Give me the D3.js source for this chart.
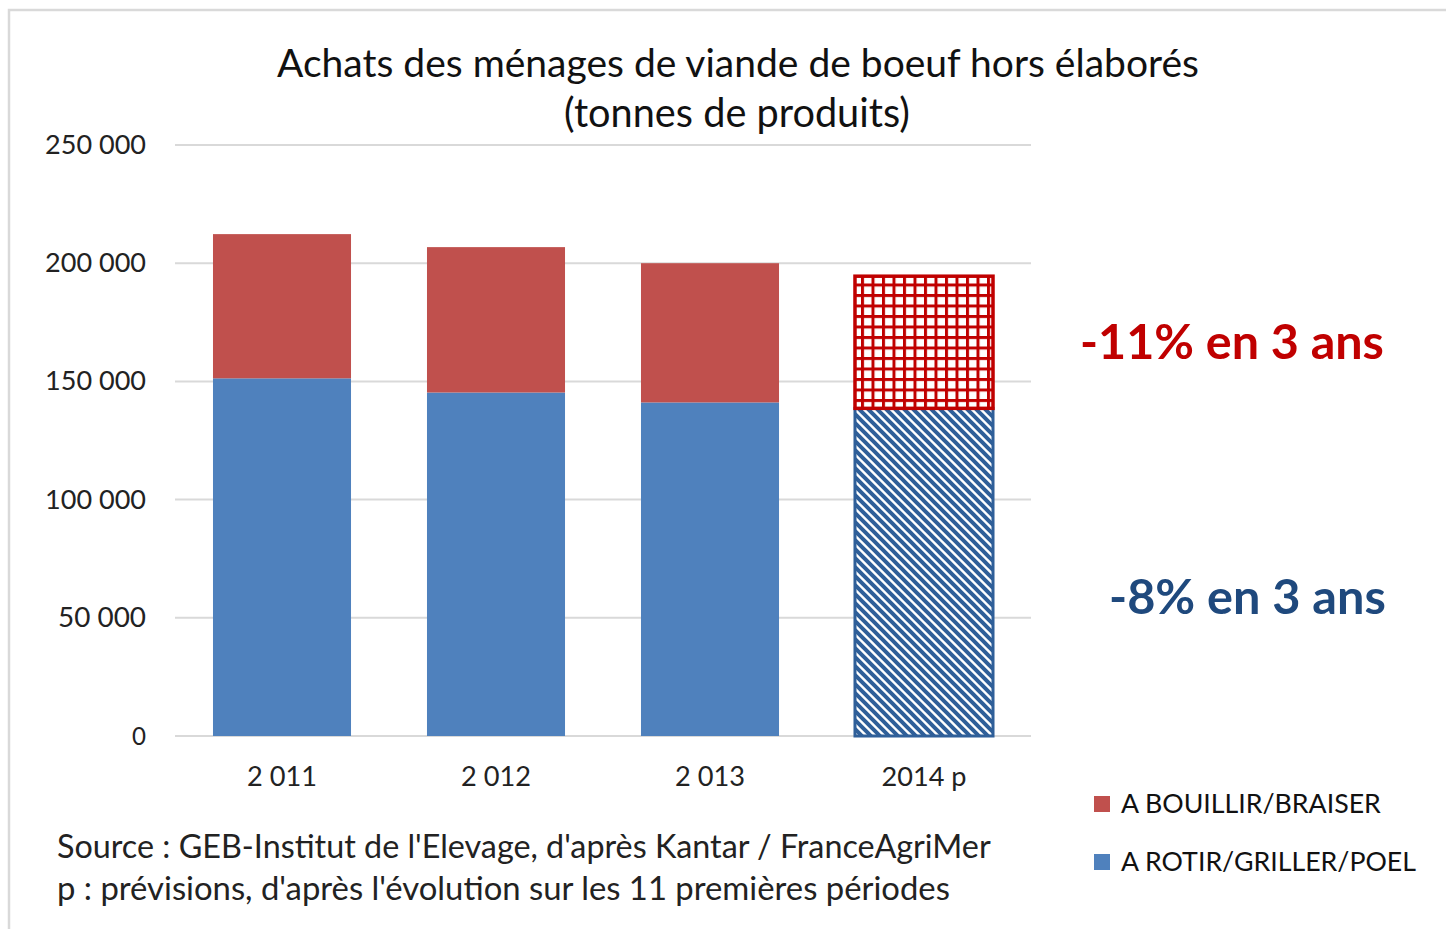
<!DOCTYPE html>
<html>
<head>
<meta charset="utf-8">
<script src="https://cdn.jsdelivr.net/npm/d3@7"></script>
<style>
  body { margin: 0; background: #fff; }
  text { font-family: Lato, "Open Sans", sans-serif; }
</style>
</head>
<body>
<div id="chart-area"></div>
<script>
// data
var years = ["2 011", "2 012", "2 013", "2014 p"]
var rotir = [151300, 145300, 141100, 138600]      // A ROTIR/GRILLER/POEL
var bouillir = [61000, 61500, 58900, 55900]       // A BOUILLIR/BRAISER
var yTicks = [0, 50000, 100000, 150000, 200000, 250000]
var yTickLabels = ["0", "50 000", "100 000", "150 000", "200 000", "250 000"]
var seriesNames = ["A BOUILLIR/BRAISER", "A ROTIR/GRILLER/POEL"]
var notes = ["-11% en 3 ans", "-8% en 3 ans"]

const W = 1446, H = 929
const RED = "#C0504D", BLUE = "#4F81BD"
const DARK_RED = "#C00000", DARK_BLUE = "#1F497D"

var svg = d3.select('#chart-area').append("svg")
    .attr("width", W)
    .attr("height", H)

// frame
svg.append("rect")
    .attr("x", 9).attr("y", 10)
    .attr("width", W + 20).attr("height", H + 20)
    .attr("fill", "none")
    .attr("stroke", "#D9D9D9")
    .attr("stroke-width", 2.5)

// patterns for the 2014 forecast bar
var defs = svg.append("defs")
var grid = defs.append("pattern")
    .attr("id", "redGrid")
    .attr("patternUnits", "userSpaceOnUse")
    .attr("width", 10.5).attr("height", 10.5)
grid.append("rect").attr("width", 10.5).attr("height", 10.5).attr("fill", "#fff")
grid.append("rect").attr("width", 3).attr("height", 10.5).attr("fill", DARK_RED)
grid.append("rect").attr("width", 10.5).attr("height", 3).attr("fill", DARK_RED)

var diag = defs.append("pattern")
    .attr("id", "blueDiag")
    .attr("patternUnits", "userSpaceOnUse")
    .attr("width", 9).attr("height", 9)
diag.append("rect").attr("width", 9).attr("height", 9).attr("fill", "#fff")
diag.append("path")
    .attr("d", "M-2,-2 L11,11 M-7,2 L2,11 M7,-2 L11,2")
    .attr("stroke", "#2F5F99")
    .attr("stroke-width", 4)

var xScale = d3.scaleBand()
    .domain(years)
    .range([175, 1031])
    .paddingInner(0.355)
    .paddingOuter(0.1775)

var yScale = d3.scaleLinear()
    .domain([0, 250000])
    .range([736, 145])

// gridlines
svg.append("g")
    .selectAll("line")
    .data(yTicks)
    .enter().append("line")
    .attr("x1", 175).attr("x2", 1031)
    .attr("y1", d => yScale(d)).attr("y2", d => yScale(d))
    .attr("stroke", "#D9D9D9")
    .attr("stroke-width", 2)

// fits a text to a target width by changing its font size
function fit(sel, width) {
    var size = +sel.attr("font-size")
    var len = sel.node().getComputedTextLength()
    sel.attr("font-size", size * width / len)
}

// y labels
svg.append("g")
    .selectAll("text")
    .data(yTicks)
    .enter().append("text")
    .attr("x", 146)
    .attr("y", d => yScale(d) + 9)
    .attr("text-anchor", "end")
    .attr("font-size", 25)
    .attr("fill", "#222")
    .text((d, i) => yTickLabels[i])
    .each(function(d, i) {
        fit(d3.select(this), i == 0 ? 14 : (i == 1 ? 88 : 101))
    })

// bars
var stack = years.map(function(y, i) {
    return {year: y, rotir: rotir[i], bouillir: bouillir[i], forecast: i == 3}
})
var bars = svg.append("g")
bars.selectAll(".rotir")
    .data(stack)
    .enter().append("rect")
    .attr("class", "rotir")
    .attr("x", d => xScale(d.year))
    .attr("width", xScale.bandwidth())
    .attr("y", d => yScale(d.rotir))
    .attr("height", d => yScale(0) - yScale(d.rotir))
    .attr("fill", d => d.forecast ? "url(#blueDiag)" : BLUE)
    .attr("stroke", d => d.forecast ? "#2F5F99" : "none")
    .attr("stroke-width", 3)
bars.selectAll(".bouillir")
    .data(stack)
    .enter().append("rect")
    .attr("class", "bouillir")
    .attr("x", d => xScale(d.year))
    .attr("width", xScale.bandwidth())
    .attr("y", d => yScale(d.rotir + d.bouillir))
    .attr("height", d => yScale(d.rotir) - yScale(d.rotir + d.bouillir))
    .attr("fill", d => d.forecast ? "url(#redGrid)" : RED)
    .attr("stroke", d => d.forecast ? DARK_RED : "none")
    .attr("stroke-width", 3.5)

// x labels
svg.append("g")
    .selectAll("text")
    .data(years)
    .enter().append("text")
    .attr("x", d => xScale(d) + xScale.bandwidth() / 2)
    .attr("y", 786)
    .attr("text-anchor", "middle")
    .attr("font-size", 25)
    .attr("fill", "#222")
    .text(d => d)
    .each(function(d, i) { fit(d3.select(this), i == 3 ? 85 : 70) })

// title
var t1 = svg.append("text")
    .attr("x", 738).attr("y", 77)
    .attr("text-anchor", "middle")
    .attr("font-size", 34)
    .attr("fill", "#111")
    .text("Achats des ménages de viande de boeuf hors élaborés")
fit(t1, 922)
var t2 = svg.append("text")
    .attr("x", 737).attr("y", 127)
    .attr("text-anchor", "middle")
    .attr("font-size", 34)
    .attr("fill", "#111")
    .text("(tonnes de produits)")
fit(t2, 346)

// annotations
var n1 = svg.append("text")
    .attr("x", 1080).attr("y", 359)
    .attr("font-size", 44)
    .attr("font-weight", "bold")
    .attr("fill", DARK_RED)
    .text(notes[0])
fit(n1, 304)
var n2 = svg.append("text")
    .attr("x", 1109).attr("y", 614)
    .attr("font-size", 44)
    .attr("font-weight", "bold")
    .attr("fill", DARK_BLUE)
    .text(notes[1])
fit(n2, 277)

// legend
var legendColours = [RED, BLUE]
var legendWidths = [260, 295]
var legend = svg.append("g")
    .attr("transform", "translate(1094,796)")
seriesNames.forEach(function(name, i) {
    var row = legend.append("g")
        .attr("transform", "translate(0," + (i * 58) + ")")
    row.append("rect")
        .attr("width", 16)
        .attr("height", 16)
        .attr("fill", legendColours[i])
    var txt = row.append("text")
        .attr("x", 27)
        .attr("y", 17)
        .attr("font-size", 25)
        .attr("fill", "#111")
        .text(name)
    fit(txt, legendWidths[i])
})

// source lines
var s1 = svg.append("text")
    .attr("x", 57).attr("y", 858)
    .attr("font-size", 27)
    .attr("fill", "#222")
    .text("Source : GEB-Institut de l'Elevage, d'après Kantar / FranceAgriMer")
fit(s1, 934)
var s2 = svg.append("text")
    .attr("x", 57).attr("y", 900)
    .attr("font-size", 27)
    .attr("fill", "#222")
    .text("p : prévisions, d'après l'évolution sur les 11 premières périodes")
fit(s2, 893)
</script>
</body>
</html>
